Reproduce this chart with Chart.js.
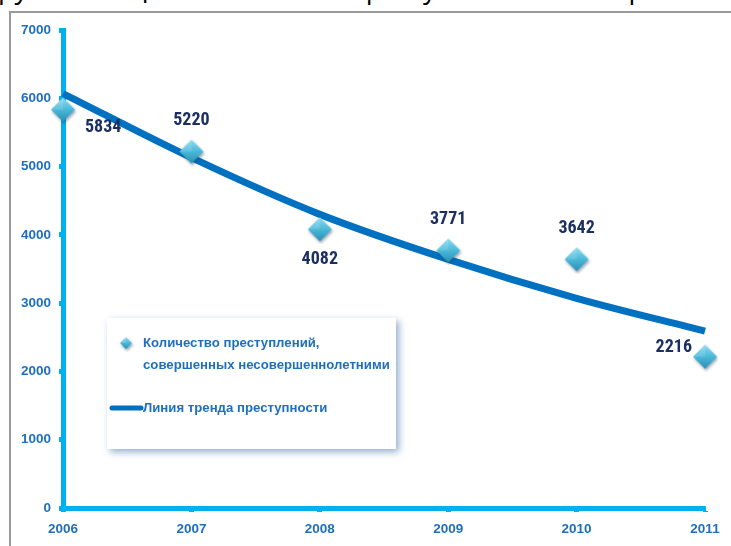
<!DOCTYPE html>
<html>
<head>
<meta charset="utf-8">
<script src="https://cdn.jsdelivr.net/npm/chart.js@4/dist/chart.umd.min.js"></script>
<style>
  html, body { margin:0; padding:0; background:#fff; }
  #wrap { position:relative; width:731px; height:546px; overflow:hidden; background:#fff; }
  #frame { position:absolute; left:9px; top:11px; width:740px; height:560px; border-left:2px solid #9a9a9a; border-top:2px solid #9a9a9a; box-sizing:border-box; }
  #head { position:absolute; left:-2px; top:-29px; white-space:nowrap; font-family:"Open Sans", sans-serif; font-size:27px; color:#000; line-height:34px; }
  canvas { position:absolute; left:0; top:0; }
</style>
</head>
<body>
<div id="wrap">
  <div id="head">руют с общим снижением преступности несовершеннолетних</div>
  <div id="frame"></div>
  <canvas id="c" width="731" height="546"></canvas>
</div>
<script>
const years = ['2006', '2007', '2008', '2009', '2010', '2011'];
const crimes = [5834, 5220, 4082, 3771, 3642, 2216];
const trend = [6070, 5130, 4300, 3640, 3070, 2590];
const crimeLabel = ['Количество преступлений,', 'совершенных несовершеннолетними'];
const trendLabel = 'Линия тренда преступности';
const yTicks = [0, 1000, 2000, 3000, 4000, 5000, 6000, 7000];

const NARROW = '"Liberation Sans Narrow", "Roboto Condensed", "DejaVu Sans Condensed", sans-serif';
const SANS = '"Liberation Sans", Arial, sans-serif';

function makeDiamond(half) {
  const pad = 3;
  const s = half * 2 + pad * 2;
  const cv = document.createElement('canvas');
  cv.width = s; cv.height = s;
  const g = cv.getContext('2d');
  const cx = s / 2, cy = s / 2;
  g.save();
  g.shadowColor = 'rgba(30,60,90,0.45)';
  g.shadowBlur = 3; g.shadowOffsetX = 1; g.shadowOffsetY = 2;
  g.beginPath();
  g.moveTo(cx, cy - half); g.lineTo(cx + half, cy); g.lineTo(cx, cy + half); g.lineTo(cx - half, cy); g.closePath();
  const gr = g.createLinearGradient(cx, cy - half, cx, cy + half);
  gr.addColorStop(0, '#8fdcf0'); gr.addColorStop(0.5, '#4bb9d9'); gr.addColorStop(1, '#2a8fb3');
  g.fillStyle = gr; g.fill();
  g.restore();
  g.beginPath();
  g.moveTo(cx, cy - half); g.lineTo(cx - half, cy); g.lineTo(cx, cy); g.closePath();
  g.fillStyle = 'rgba(255,255,255,0.12)'; g.fill();
  return cv;
}
const bigDiamond = makeDiamond(12);
const smallDiamond = makeDiamond(6);

const labelPos = [
  {dx: 22, dy: 18, align: 'left'},
  {dx: 0, dy: -31, align: 'center'},
  {dx: 0, dy: 30, align: 'center'},
  {dx: 0, dy: -31, align: 'center'},
  {dx: 0, dy: -31, align: 'center'},
  {dx: -13, dy: -9, align: 'right'}
];

const overlay = {
  id: 'overlay',
  afterDatasetsDraw(chart) {
    const ctx = chart.ctx;
    const meta = chart.getDatasetMeta(0);
    ctx.save();
    ctx.font = 'bold 18px ' + NARROW;
    ctx.fillStyle = '#1b2f63';
    ctx.textBaseline = 'middle';
    meta.data.forEach((p, i) => {
      const lp = labelPos[i];
      ctx.textAlign = lp.align;
      ctx.fillText(String(crimes[i]), p.x + lp.dx, p.y + lp.dy);
    });
    ctx.restore();

    const bx = 107, by = 318, bw = 289, bh = 131;
    ctx.save();
    ctx.shadowColor = 'rgba(60,110,170,0.55)';
    ctx.shadowBlur = 7; ctx.shadowOffsetX = 3; ctx.shadowOffsetY = 3;
    ctx.fillStyle = '#ffffff';
    ctx.fillRect(bx, by, bw, bh);
    ctx.restore();

    ctx.save();
    ctx.drawImage(smallDiamond, 126 - smallDiamond.width / 2, 343 - smallDiamond.height / 2);
    ctx.font = 'bold 13.2px ' + SANS;
    ctx.fillStyle = '#1f6fbf';
    ctx.textAlign = 'left';
    ctx.textBaseline = 'middle';
    ctx.fillText(crimeLabel[0], 143, 343);
    ctx.fillText(crimeLabel[1], 143, 365);
    ctx.strokeStyle = '#0070c0';
    ctx.lineWidth = 5;
    ctx.lineCap = 'round';
    ctx.beginPath(); ctx.moveTo(112, 408); ctx.lineTo(141, 408); ctx.stroke();
    ctx.fillText(trendLabel, 143, 408);
    ctx.restore();
  }
};

new Chart(document.getElementById('c'), {
  type: 'line',
  data: {
    labels: years,
    datasets: [
      {
        label: crimeLabel.join(' '),
        data: crimes,
        showLine: false,
        pointStyle: bigDiamond,
        pointRadius: 12,
        order: 0
      },
      {
        label: trendLabel,
        data: trend,
        borderColor: '#0070c0',
        borderWidth: 7,
        pointRadius: 0,
        cubicInterpolationMode: 'monotone',
        borderCapStyle: 'butt',
        fill: false,
        order: 1
      }
    ]
  },
  options: {
    responsive: false,
    animation: false,
    events: [],
    layout: { padding: { left: 0, top: 30, right: 26, bottom: 0 } },
    plugins: { legend: { display: false }, tooltip: { enabled: false } },
    scales: {
      x: {
        type: 'category',
        offset: false,
        border: { color: '#00b0f0', width: 5 },
        grid: { drawOnChartArea: false, drawTicks: true, tickLength: 4, tickWidth: 5, color: '#00b0f0' },
        ticks: { color: '#1f6fbf', font: { family: SANS, size: 13.5, weight: 'bold' }, padding: 9, maxRotation: 0, autoSkip: false },
        afterFit(scale) { scale.height = 38; }
      },
      y: {
        min: 0, max: 7000,
        afterBuildTicks(scale) { scale.ticks = yTicks.map(v => ({ value: v })); },
        border: { color: '#00b0f0', width: 5 },
        grid: { drawOnChartArea: false, drawTicks: true, tickLength: 4, tickWidth: 5, color: '#00b0f0' },
        ticks: { color: '#1f6fbf', font: { family: SANS, size: 13.5, weight: 'bold' }, padding: 8, callback: v => String(v) },
        afterFit(scale) { scale.width = 63; }
      }
    }
  },
  plugins: [overlay]
});
</script>
</body>
</html>
